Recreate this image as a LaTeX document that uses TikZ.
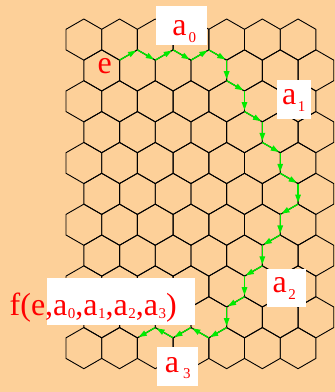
\documentclass[tikz,border=0pt]{standalone}
\usepackage{fontspec}
\setmainfont{Liberation Serif}
\usetikzlibrary{arrows.meta}
\definecolor{bgpeach}{RGB}{253,208,153}
\definecolor{pathgreen}{RGB}{0,235,0}
\newcommand\subd[3]{\kern#3pt\raisebox{-#2pt}{\fontsize{15}{15}\selectfont #1}}
\begin{document}
\begin{tikzpicture}[x=1pt,y=-1pt,
  hexline/.style={draw=black, line width=0.9pt, line join=round},
  flow/.style={draw=pathgreen, line width=1.3pt, -{Triangle[length=8pt,width=5.5pt]}, shorten >=1.5pt},
  lbl/.style={fill=white, inner sep=0pt, text=red, font=\fontsize{32}{32}\selectfont},
  redtext/.style={inner sep=0pt, text=red, font=\fontsize{32}{32}\selectfont}]
\fill[bgpeach] (0,0) rectangle (335,392);
\useasboundingbox (0,0) rectangle (335,392);
\def\hexh{17.85}
\def\hexs{20.57}
\def\rowR{30.855}
% hexagon grid
\foreach \r in {0,...,10}{
  \pgfmathsetmacro\cy{19+\hexs+\rowR*\r}
  \pgfmathsetmacro\off{83.85+17.85*mod(\r,2)}
  \foreach \k in {0,...,6}{
    \pgfmathsetmacro\cx{\off+35.7*\k}
    \draw[hexline] (\cx,\cy-\hexs) -- (\cx+\hexh,\cy-\hexs/2) -- (\cx+\hexh,\cy+\hexs/2)
      -- (\cx,\cy+\hexs) -- (\cx-\hexh,\cy+\hexs/2) -- (\cx-\hexh,\cy-\hexs/2) -- cycle;
  }
}
% path vertices
\foreach [count=\n] \i/\l in {3/3,4/2,5/3,6/2,7/3,8/2,9/3,9/4,10/5,10/6,11/7,11/8,12/9,12/10,13/11,13/12,12/13,12/14,11/15,11/16,10/17,10/18,9/19,9/20,8/21,7/20,6/21,5/20,4/21}{
  \pgfmathsetmacro\px{66+\hexh*\i}
  \pgfmathsetmacro\py{19+\rowR*floor(\l/2)+\hexs/2*mod(\l,2)}
  \coordinate (p\n) at (\px,\py);
}
\foreach \a [count=\b from 2] in {1,...,28}{
  \draw[flow] (p\a) -- (p\b);
}
% labels
\node[redtext, anchor=base west] (e) at (97.5,73.3) {e};
\node[lbl, minimum width=51.3pt, minimum height=39pt, text height=29pt, text depth=10pt] (a0) at (181.65,25.5) {a\subd{0}{7}{2}\kern-5pt};
\node[lbl, minimum width=34pt, minimum height=39pt, text height=24pt, text depth=15pt] (a1) at (293.7,99.5) {a\subd{1}{7}{1.5}};
\node[lbl, minimum width=39.3pt, minimum height=38.3pt, text height=23.3pt, text depth=15pt] (a2) at (286.35,287.85) {a\subd{2}{7}{1.5}\kern4pt};
\node[lbl, minimum width=41pt, minimum height=39pt, text height=25pt, text depth=14pt] (a3) at (177.8,366.5) {a\subd{3}{6}{4}};
\node[lbl, minimum width=148.3pt, minimum height=46.7pt] (fbox) at (120.85,301.65) {};
\node[redtext, anchor=base west] (ftext) at (9.5,315) {f(e,a\subd{0}{3.3}{0.5},a\subd{1}{3.3}{0.5},a\subd{2}{3.3}{0.5},a\subd{3}{3.3}{0.5})};
\end{tikzpicture}
\end{document}
